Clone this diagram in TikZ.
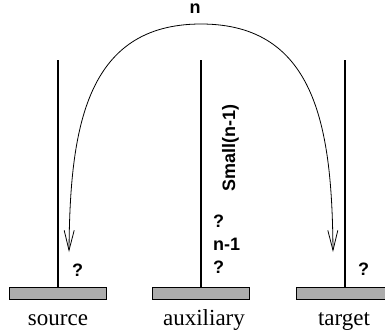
\documentclass[tikz,border=0pt]{standalone}
\usepackage{fontspec}
\setmainfont{Liberation Serif}
\setsansfont{Liberation Sans}
\usetikzlibrary{arrows.meta}
\tikzset{
  peg/.style={line width=2pt},
  basebox/.style={draw=black, fill=gray!65, line width=0.6pt, minimum width=97pt, minimum height=12pt, inner sep=0pt},
  lbl/.style={font=\fontsize{23}{26}\selectfont, inner sep=0pt, anchor=base},
  tag/.style={font=\sffamily\bfseries\fontsize{18}{20}\selectfont, inner sep=0pt, anchor=base west},
  barb/.tip={Straight Barb[length=20pt,width=10pt,line width=0.8pt]},
  arc/.style={line width=0.8pt, barb-barb}
}
\begin{document}
\begin{tikzpicture}[x=1pt,y=-1pt]
\useasboundingbox (0,0) rectangle (385,335);
\clip (0,0) rectangle (385,335);
% bases
\node[basebox] (b1) at (57.5,293) {};
\node[basebox] (b2) at (201,293) {};
\node[basebox] (b3) at (345,293) {};
% peg tops
\coordinate (t1) at (58,60);
\coordinate (t2) at (201,60);
\coordinate (t3) at (345,60);
\draw[peg] (t1) -- (t1 |- b1.north);
\draw[peg] (t2) -- (t2 |- b2.north);
\draw[peg] (t3) -- (t3 |- b3.north);
% labels
\node[lbl] (ls) at (58,325) {source};
\node[lbl] (la) at (204,325) {auxiliary};
\node[lbl] (lt) at (344,325) {target};
% arc
\coordinate (tipL) at (69,252);
\coordinate (top) at (201,24);
\coordinate (tipR) at (333,252);
\draw[arc] (tipL) .. controls (70,130) and (85,24) .. (top) .. controls (317,24) and (332,130) .. (tipR);
\node[tag, anchor=base] (n) at (195,13.5) {n};
% tags
\node[tag] (q1) at (72,276) {?};
\node[tag] (q2) at (213,227) {?};
\node[tag] (q3) at (213,250) {n-1};
\node[tag] (q4) at (213,273) {?};
\node[tag] (q5) at (358,275) {?};
\node[tag, rotate=90] (sm) at (235,192) {Small(n-1)};
\end{tikzpicture}
\end{document}
